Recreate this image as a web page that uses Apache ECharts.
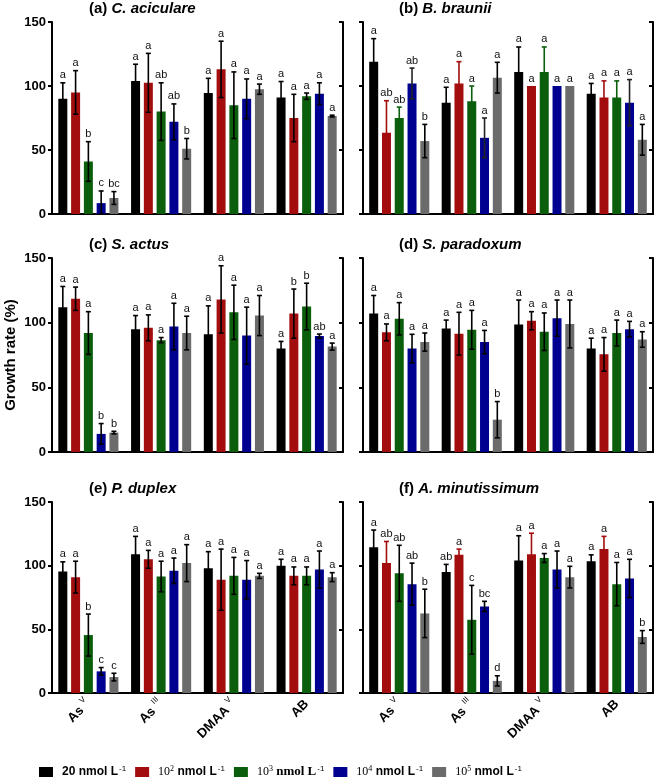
<!DOCTYPE html>
<html><head><meta charset="utf-8">
<script src="https://cdn.jsdelivr.net/npm/echarts@6/dist/echarts.min.js"></script>
<style>html,body{margin:0;padding:0;background:#fff}#c{width:658px;height:780px}</style>
</head><body><div id="c"></div>
<script>
// ---- categories & series ----
const catBase = ['As', 'As', 'DMAA', 'AB'];
const catSup = ['V', 'III', 'V', ''];
const categories = ['AsV', 'AsIII', 'DMAAV', 'AB'];
const seriesNames = ['20 nmol L-1', '10^2 nmol L-1', '10^3 nmol L-1', '10^4 nmol L-1', '10^5 nmol L-1'];
const yTicks = [0, 50, 100, 150];

// ---- values: rows = concentration series, columns = categories ----
const aValues = [[90, 104, 94.5, 91], [95, 102.5, 113, 75], [41, 80, 85, 92], [8.5, 72, 90, 94], [12.5, 51, 97.5, 76.5]];
const aErrors = [[12.5, 13, 11.5, 12.5], [17, 23, 22, 18.5], [15.5, 22.5, 26, 2.5], [9.5, 14, 15.5, 8.5], [5, 8, 4, 0.7]];
const aLetters = [['a','a','a','a'], ['a','a','a','a'], ['b','ab','a','a'], ['c','ab','a','a'], ['bc','b','a','a']];

const bValues = [[119, 87, 111, 94], [63.5, 102, 100, 91], [75, 88, 111, 91], [102, 59.5, 100, 87], [57, 106.5, 100, 58]];
const bErrors = [[18, 12, 19.5, 8], [25, 17, 0, 13], [8.5, 12, 19.5, 13], [12, 15.5, 0, 18], [13, 12, 0, 12]];
const bLetters = [['a','a','a','a'], ['ab','a','a','a'], ['ab','a','a','a'], ['ab','a','a','a'], ['b','a','a','a']];

const cValues = [[112, 95, 91, 80], [118.5, 96, 118, 107], [92, 86.5, 108, 112.5], [14, 97, 90, 89.7], [15, 92, 105.5, 81.5]];
const cErrors = [[16, 10.5, 22, 5.5], [9, 10, 26, 19], [16.5, 2, 21, 18], [8, 18, 22, 1.5], [1, 13, 15.5, 2.7]];
const cLetters = [['a','a','a','a'], ['a','a','a','b'], ['a','a','a','b'], ['b','a','a','ab'], ['b','a','a','a']];

const dValues = [[107, 95.5, 98.5, 80], [92.5, 91.5, 101.5, 75.5], [103, 94.5, 93, 92], [80, 85, 103.5, 95], [85, 25, 99, 87]];
const dErrors = [[14, 6.5, 19, 8], [6.5, 16.5, 7, 13], [12.5, 15, 14.5, 10], [11, 9, 14, 6], [7, 14, 18.5, 6]];
const dLetters = [['a','a','a','a'], ['a','a','a','a'], ['a','a','a','a'], ['a','a','a','a'], ['a','b','a','a']];

const eValues = [[95.5, 109, 98, 100], [91, 105, 89, 92], [45.5, 91.5, 92, 92], [17, 96, 89, 97], [12.5, 102, 92, 91]];
const eErrors = [[7.5, 14, 13, 5], [12.5, 7, 24, 7], [16.5, 12, 14.5, 7], [3, 10, 15, 14.5], [3, 14.5, 2, 3.5]];
const eLetters = [['a','a','a','a'], ['a','a','a','a'], ['b','a','a','a'], ['c','a','a','a'], ['c','a','a','a']];

const fValues = [[114.5, 95, 104, 103.5], [102, 108.5, 109, 113], [94, 57.5, 106, 85.5], [85.5, 68, 97, 90], [62.5, 9.5, 91, 44]];
const fErrors = [[13.5, 6, 19.5, 5], [17, 4.5, 16.5, 10], [22, 27, 3.5, 17], [16.5, 4, 14.5, 15], [19, 4, 8.5, 5]];
const fLetters = [['a','ab','a','a'], ['ab','a','a','a'], ['ab','c','a','a'], ['ab','bc','a','a'], ['b','d','a','b']];

const panelTags = ['(a)', '(b)', '(c)', '(d)', '(e)', '(f)'];
const panelSpecies = ['C. aciculare', 'B. braunii', 'S. actus', 'S. paradoxum', 'P. duplex', 'A. minutissimum'];

// ---- style / layout ----
const colors = ['#000000', '#a30d0d', '#0b5e0b', '#000090', '#6b6b6b'];
const panelData = [
  [aValues, aErrors, aLetters], [bValues, bErrors, bLetters], [cValues, cErrors, cLetters],
  [dValues, dErrors, dLetters], [eValues, eErrors, eLetters], [fValues, fErrors, fLetters]
];
const errColors = [
  ['#000','#000','#000','#000','#000'],
  ['#000','#a30d0d','#0b5e0b','#222','#000'],
  ['#000','#000','#000','#000','#000'],
  ['#000','#000','#000','#000','#000'],
  ['#000','#000','#000','#000','#000'],
  ['#000','#a30d0d','#000','#000','#000']
];
const grids = [
  {left: 52, top: 22, width: 291, height: 192},
  {left: 363, top: 22, width: 290, height: 192},
  {left: 52, top: 258, width: 291, height: 194},
  {left: 363, top: 258, width: 290, height: 194},
  {left: 52, top: 502, width: 291, height: 191},
  {left: 363, top: 502, width: 290, height: 191}
];
const BAR_W = 9, BAR_GAP = 0.42;
const PITCH = BAR_W * (1 + BAR_GAP);

const chart = echarts.init(document.getElementById('c'), null, {renderer: 'canvas'});

const xAxes = [], yAxes = [], series = [], titles = [];
const axisLineStyle = {color: '#000', width: 2};
grids.forEach((g, i) => {
  const bottomRow = i >= 4, leftCol = i % 2 === 0;
  xAxes.push({
    type: 'category', gridIndex: i, data: categories, position: 'bottom',
    axisLine: {lineStyle: axisLineStyle},
    axisTick: {alignWithLabel: true, length: 4, lineStyle: {width: 2, color: '#000'}},
    axisLabel: {
      show: bottomRow, rotate: 45, margin: 9, interval: 0,
      formatter: (v, idx) => catSup[idx] ? '{b|' + catBase[idx] + '}{s|' + catSup[idx] + '}' : '{b|' + catBase[idx] + '}',
      rich: {
        b: {fontFamily: 'Liberation Sans, Arial', fontWeight: 'bold', fontSize: 13, color: '#000', lineHeight: 16},
        s: {fontFamily: 'Liberation Sans, Arial', fontSize: 8, color: '#000', verticalAlign: 'top', padding: [0, 0, 11, 4]}
      }
    }
  });
  xAxes.push({
    type: 'category', gridIndex: i, data: categories, position: 'top',
    axisLine: {lineStyle: axisLineStyle},
    axisTick: {inside: true, alignWithLabel: true, length: 4, lineStyle: {width: 2, color: '#000'}},
    axisLabel: {show: false}
  });
  const yMain = {
    type: 'value', gridIndex: i, min: yTicks[0], max: yTicks[yTicks.length - 1], interval: yTicks[1] - yTicks[0],
    position: 'left',
    axisLine: {show: true, lineStyle: axisLineStyle},
    axisTick: {show: true, length: 4, lineStyle: {width: 2, color: '#000'}},
    splitLine: {show: false},
    axisLabel: {show: leftCol, margin: 6, fontFamily: 'Liberation Sans, Arial', fontWeight: 'bold', fontSize: 13, color: '#000'}
  };
  if (i === 2) {
    yMain.name = 'Growth rate (%)';
    yMain.nameLocation = 'middle';
    yMain.nameGap = 34;
    yMain.nameTextStyle = {fontFamily: 'Liberation Sans, Arial', fontWeight: 'bold', fontSize: 15, color: '#000'};
  }
  yAxes.push(yMain);
  yAxes.push({
    type: 'value', gridIndex: i, min: yTicks[0], max: yTicks[yTicks.length - 1], interval: yTicks[1] - yTicks[0],
    position: 'right',
    axisLine: {show: true, lineStyle: axisLineStyle},
    axisTick: {show: true, inside: true, length: 4, lineStyle: {width: 2, color: '#000'}},
    splitLine: {show: false},
    axisLabel: {show: false}
  });

  titles.push({
    text: '{n|' + panelTags[i] + ' }{i|' + panelSpecies[i] + '}',
    left: leftCol ? 89 : 399,
    top: g.top - 21,
    padding: 0,
    textStyle: {
      rich: {
        n: {fontFamily: 'Liberation Sans, Arial', fontWeight: 'bold', fontSize: 15, color: '#000'},
        i: {fontFamily: 'Liberation Sans, Arial', fontWeight: 'bold', fontStyle: 'italic', fontSize: 15, color: '#000'}
      }
    }
  });

  const [vals, errs, lets] = panelData[i];
  for (let s = 0; s < 5; s++) {
    series.push({
      type: 'bar', name: seriesNames[s], xAxisIndex: 2 * i, yAxisIndex: 2 * i,
      data: vals[s], barWidth: BAR_W, barGap: (BAR_GAP * 100) + '%',
      itemStyle: {color: colors[s]}, z: 2, silent: true
    });
  }
  for (let s = 0; s < 5; s++) {
    const offset = (s - 2) * PITCH;
    const ec = errColors[i][s];
    const letters = lets[s];
    series.push({
      type: 'custom', name: seriesNames[s], xAxisIndex: 2 * i, yAxisIndex: 2 * i,
      clip: false, z: 5, silent: true,
      data: vals[s].map((v, k) => [k, v, errs[s][k]]),
      renderItem: function (params, api) {
        const k = api.value(0), v = api.value(1), e = api.value(2);
        const x = api.coord([k, v])[0] + offset;
        const yTop = api.coord([k, v + e])[1];
        const yBot = api.coord([k, Math.max(v - e, 0)])[1];
        const children = [];
        if (e > 0) {
          const st = {stroke: ec, lineWidth: 1.6};
          children.push({type: 'line', shape: {x1: x, y1: yTop, x2: x, y2: yBot}, style: st});
          children.push({type: 'line', shape: {x1: x - 2.5, y1: yTop, x2: x + 2.5, y2: yTop}, style: st});
          children.push({type: 'line', shape: {x1: x - 2.5, y1: yBot, x2: x + 2.5, y2: yBot}, style: st});
        }
        children.push({
          type: 'text', x: x, y: yTop - 2,
          style: {text: letters[params.dataIndex], align: 'center', verticalAlign: 'bottom',
            fontFamily: 'Liberation Sans, Arial', fontSize: 11, fill: '#111'}
        });
        return {type: 'group', children: children};
      }
    });
  }
});

const legendRich = {
  t: {fontFamily: 'Liberation Sans, Arial', fontWeight: 'bold', fontSize: 12, color: '#000'},
  ts: {fontFamily: 'Liberation Serif, Times New Roman', fontWeight: 'bold', fontSize: 13, color: '#000'},
  n: {fontFamily: 'Liberation Serif, Times New Roman', fontSize: 12, color: '#000'},
  e: {fontFamily: 'Liberation Serif, Times New Roman', fontSize: 8, color: '#000', verticalAlign: 'top', padding: [0, 0, 6, 0]},
  p: {fontFamily: 'Liberation Sans, Arial', fontSize: 8, color: '#000', verticalAlign: 'top', padding: [0, 0, 6, 1]}
};

chart.setOption({
  animation: false,
  backgroundColor: '#fff',
  title: titles,
  grid: grids,
  xAxis: xAxes,
  yAxis: yAxes,
  legend: {
    data: seriesNames, left: 34, top: 760, itemWidth: 14, itemHeight: 10, itemGap: 9,
    icon: 'rect', selectedMode: false,
    formatter: function (name) {
      const idx = seriesNames.indexOf(name);
      if (idx === 0) return '{t|20 nmol L}{p|-1}';
      const exp = name.split(' ')[0].split('^')[1];
      return '{n|10}{e|' + exp + '}' + (idx === 2 ? '{ts| nmol L}' : '{t| nmol L}') + '{p|-1}';
    },
    textStyle: {rich: legendRich, padding: [0, 0, 0, 4]}
  },
  series: series
});
</script>
</body></html>
